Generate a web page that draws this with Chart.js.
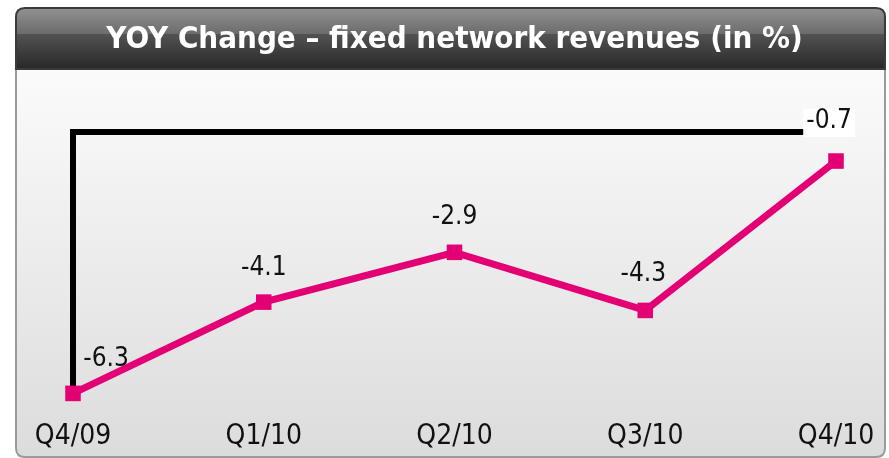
<!DOCTYPE html>
<html>
<head>
<meta charset="utf-8">
<script src="https://cdn.jsdelivr.net/npm/chart.js@4.4.1/dist/chart.umd.min.js"></script>
<style>
  html, body { margin: 0; padding: 0; background: #ffffff; }
  #wrap { width: 889px; height: 458px; position: relative; }
</style>
</head>
<body>
<div id="wrap"><canvas id="myChart" width="889" height="458"></canvas></div>
<script>
// data
var quarters = ["Q4/09", "Q1/10", "Q2/10", "Q3/10", "Q4/10"];
var yoyChange = [-6.3, -4.1, -2.9, -4.3, -0.7];
var chartTitle = "YOY Change \u2013 fixed network revenues (in %)";

var narrow = "'Liberation Sans Narrow', 'DejaVu Sans Condensed', 'Liberation Sans', sans-serif";
var magenta = "#e20074";

// label offsets from each point (dx, dy) in px
var labelOffsets = [[33, -34], [0, -34], [0, -35], [-2, -36], [-7, -40]];

// pick a title size that spans about 715px like the original
var measure = document.createElement("canvas").getContext("2d");
var titleSize = 40;
while (titleSize > 20) {
  measure.font = "bold " + titleSize + "px " + narrow;
  if (measure.measureText(chartTitle).width <= 715) break;
  titleSize--;
}
var titleLine = titleSize * 1.2;
var titleTop = 40 - titleLine / 2;

// frame: rounded box, dark title bar, light gradient panel
var framePlugin = {
  id: "frame",
  beforeDraw: function (chart) {
    var c = chart.ctx;
    var L = 16, R = 885, T = 8, B = 457, H = 69, r = 9;
    c.save();
    // panel
    var pg = c.createLinearGradient(0, H, 0, B);
    pg.addColorStop(0, "#fbfbfb");
    pg.addColorStop(1, "#dcdcdc");
    c.beginPath();
    c.moveTo(L, H);
    c.lineTo(R, H);
    c.lineTo(R, B - r);
    c.quadraticCurveTo(R, B, R - r, B);
    c.lineTo(L + r, B);
    c.quadraticCurveTo(L, B, L, B - r);
    c.closePath();
    c.fillStyle = pg;
    c.fill();
    c.lineWidth = 2;
    c.strokeStyle = "#9a9a9a";
    c.stroke();
    // title bar
    var tg = c.createLinearGradient(0, T, 0, H);
    tg.addColorStop(0, "#929292");
    tg.addColorStop(0.42, "#6c6c6c");
    tg.addColorStop(0.43, "#525252");
    tg.addColorStop(1, "#282828");
    c.beginPath();
    c.moveTo(L, H);
    c.lineTo(L, T + r);
    c.quadraticCurveTo(L, T, L + r, T);
    c.lineTo(R - r, T);
    c.quadraticCurveTo(R, T, R, T + r);
    c.lineTo(R, H);
    c.closePath();
    c.fillStyle = tg;
    c.fill();
    c.lineWidth = 2;
    c.strokeStyle = "#3a3a3a";
    c.stroke();
    c.restore();
  },
  beforeDatasetsDraw: function (chart) {
    var c = chart.ctx;
    var xs = chart.scales.x, ys = chart.scales.y;
    var x0 = xs.getPixelForValue(0);
    var x1 = xs.getPixelForValue(quarters.length - 1);
    var yTop = ys.getPixelForValue(0);
    var yBot = ys.getPixelForValue(yoyChange[0]);
    c.save();
    c.strokeStyle = "#000000";
    c.lineWidth = 6;
    c.lineCap = "square";
    c.beginPath();
    c.moveTo(x0, yBot);
    c.lineTo(x0, yTop);
    c.lineTo(x1, yTop);
    c.stroke();
    c.restore();
  },
  afterDatasetsDraw: function (chart) {
    var c = chart.ctx;
    var pts = chart.getDatasetMeta(0).data;
    c.save();
    c.font = "26px " + narrow;
    c.textAlign = "center";
    c.textBaseline = "middle";
    pts.forEach(function (p, i) {
      var txt = yoyChange[i].toFixed(1);
      var x = p.x + labelOffsets[i][0];
      var y = p.y + labelOffsets[i][1];
      if (i === pts.length - 1) {
        var w = c.measureText(txt).width + 6;
        c.fillStyle = "#ffffff";
        c.fillRect(x - w / 2, y - 12, w, 28);
      }
      c.fillStyle = "#111111";
      c.fillText(txt, x, y);
    });
    c.restore();
  }
};

var ctx = document.getElementById("myChart").getContext("2d");
new Chart(ctx, {
  type: "line",
  data: {
    labels: quarters,
    datasets: [{
      label: "YOY change",
      data: yoyChange,
      borderColor: magenta,
      backgroundColor: magenta,
      borderWidth: 7,
      pointStyle: "rect",
      pointRadius: 11,
      pointBackgroundColor: magenta,
      pointBorderWidth: 0,
      tension: 0,
      fill: false,
      clip: false
    }]
  },
  options: {
    responsive: false,
    animation: false,
    layout: { autoPadding: false, padding: { left: 73, right: 53, top: 0, bottom: 2 } },
    plugins: {
      legend: { display: false },
      tooltip: { enabled: false },
      title: {
        display: true,
        text: chartTitle,
        color: "#ffffff",
        font: { family: narrow, size: titleSize, weight: "bold", lineHeight: 1.2 },
        padding: { top: titleTop, bottom: 132 - titleTop - titleLine }
      }
    },
    scales: {
      x: {
        offset: false,
        grid: { display: false, drawTicks: true, tickLength: 25 },
        border: { display: false },
        ticks: {
          color: "#111111",
          font: { family: narrow, size: 28 },
          padding: 2,
          maxRotation: 0,
          autoSkip: false
        }
      },
      y: {
        display: false,
        min: -6.3,
        max: 0
      }
    }
  },
  plugins: [framePlugin]
});
</script>
</body>
</html>
